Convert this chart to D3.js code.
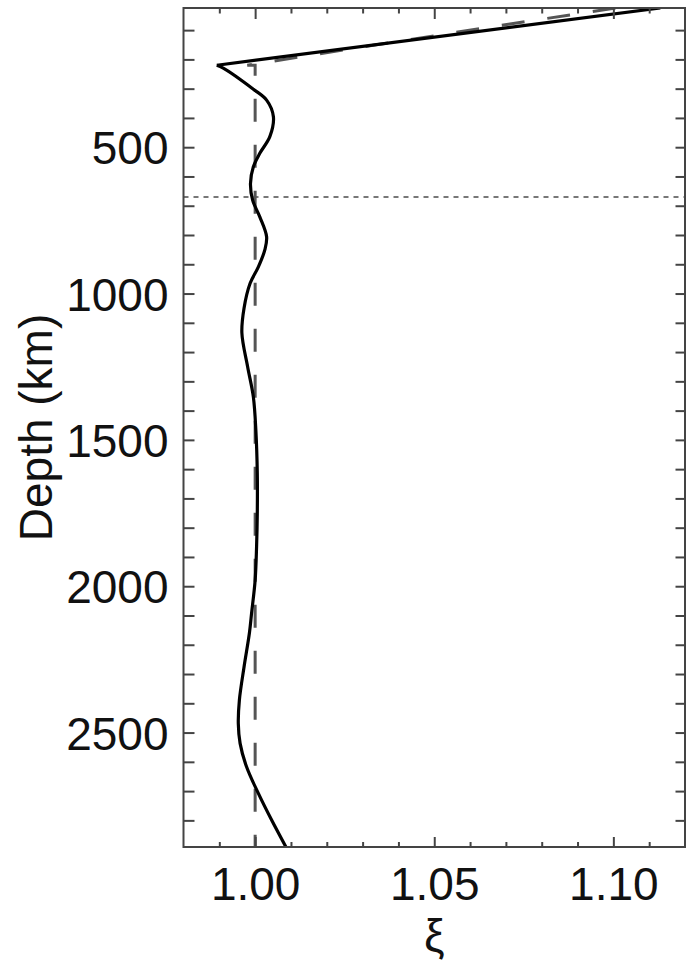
<!doctype html>
<html lang="en">
<head>
<meta charset="utf-8">
<title>Radial anisotropy xi versus depth</title>
<script src="https://cdn.jsdelivr.net/npm/d3@7"></script>
<style>
  body { margin: 0; background: #fff; }
  text { font-family: "Liberation Sans", Arial, Helvetica, sans-serif; fill: #111; }
</style>
</head>
<body>
<script>
// model: depth (km) and xi
var modelDepth = [24.4, 220, 230, 302, 339, 396, 464, 521, 567, 624, 681, 738, 806, 851, 909, 965, 1050, 1135,
                  1250, 1353, 1467, 1615, 1751, 1865, 1979, 2093, 2160, 2276, 2389, 2470, 2537, 2617, 2708, 2799, 2891];
var modelXi    = [1.1131, 0.9893, 0.9911, 0.9995, 1.0032, 1.0051, 1.0041, 1.0013, 0.9995, 0.9987, 0.9993, 1.0013, 1.0032, 1.0027, 1.0009, 0.9986, 0.9969, 0.9963,
                  0.9979, 0.9995, 1.0002, 1.0006, 1.0006, 1.0004, 1.0000, 0.9990, 0.9984, 0.9969, 0.9956, 0.9953, 0.9958, 0.9976, 1.0009, 1.0046, 1.0086];

// reference model (dashed)
var premDepth = [24.4, 80, 150, 220, 220, 2891];
var premXi    = [1.1006, 1.0707, 1.0338, 0.9978, 1.0000, 1.0000];

var transitionDepth = 670;

var xMajor = [1.00, 1.05, 1.10];
var xMinor = [0.99, 1.01, 1.02, 1.03, 1.04, 1.06, 1.07, 1.08, 1.09, 1.11];
var yLabels = [500, 1000, 1500, 2000, 2500];
var yTicks = [100, 200, 300, 400, 500, 600, 700, 800, 900, 1000, 1100, 1200, 1300, 1400, 1500, 1600, 1700,
              1800, 1900, 2000, 2100, 2200, 2300, 2400, 2500, 2600, 2700, 2800];

var W = 686, H = 969;
var mLeft = 183.5, mRight = 685, mTop = 8, mBottom = 847;

var svg = d3.select("body").append("svg")
    .attr("width", W).attr("height", H);

var x = d3.scaleLinear().domain([0.98, 1.12]).range([mLeft, mRight]);
var y = d3.scaleLinear().domain([24.4, 2891]).range([mTop, mBottom]);

var model = modelDepth.map(function(d, i){ return {depth: d, xi: modelXi[i]}; });
var prem = premDepth.map(function(d, i){ return {depth: d, xi: premXi[i]}; });

svg.append("clipPath").attr("id", "box").append("rect")
    .attr("x", mLeft).attr("y", mTop).attr("width", mRight - mLeft).attr("height", mBottom - mTop);

var plot = svg.append("g").attr("clip-path", "url(#box)");

// 670 km line
plot.append("line")
    .attr("x1", mLeft).attr("x2", mRight)
    .attr("y1", y(transitionDepth)).attr("y2", y(transitionDepth))
    .attr("stroke", "#777").attr("stroke-width", 2).attr("stroke-dasharray", "5,5");

var line = d3.line()
    .x(function(d){ return x(d.xi); })
    .y(function(d){ return y(d.depth); });

plot.append("path")
    .attr("d", line(prem))
    .attr("fill", "none").attr("stroke", "#555").attr("stroke-width", 3)
    .attr("stroke-dasharray", "23,23");

// straight lid part, then the smooth part below 220 km
plot.append("path")
    .attr("d", line(model.slice(0, 2)))
    .attr("fill", "none").attr("stroke", "#000").attr("stroke-width", 3.2);
plot.append("path")
    .attr("d", line.curve(d3.curveCatmullRom)(model.slice(1)))
    .attr("fill", "none").attr("stroke", "#000").attr("stroke-width", 3.2)
    .attr("stroke-linejoin", "round");

// axes
function style(g) {
  g.select(".domain").remove();
  g.selectAll(".tick line").attr("stroke", "#444").attr("stroke-width", 2);
}

svg.append("g").attr("transform", "translate(0," + mBottom + ")")
    .call(d3.axisBottom(x).tickValues(xMajor).tickSize(-10).tickPadding(20).tickFormat(d3.format(".2f")))
    .call(style)
    .selectAll("text").attr("font-size", 46).attr("font-family", null).attr("fill", "#111");
svg.append("g").attr("transform", "translate(0," + mBottom + ")")
    .call(d3.axisBottom(x).tickValues(xMinor).tickSize(-5).tickFormat(""))
    .call(style);
svg.append("g").attr("transform", "translate(0," + mTop + ")")
    .call(d3.axisTop(x).tickValues(xMajor).tickSize(-11).tickFormat(""))
    .call(style);
svg.append("g").attr("transform", "translate(0," + mTop + ")")
    .call(d3.axisTop(x).tickValues(xMinor).tickSize(-5.5).tickFormat(""))
    .call(style);

svg.append("g").attr("transform", "translate(" + mLeft + ",0)")
    .call(d3.axisLeft(y).tickValues(yTicks).tickSize(-11).tickFormat(""))
    .call(style);
svg.append("g").attr("transform", "translate(" + mLeft + ",0)")
    .call(d3.axisLeft(y).tickValues(yLabels).tickSize(0).tickPadding(15).tickFormat(d3.format("d")))
    .call(style)
    .selectAll("text").attr("font-size", 46).attr("font-family", null).attr("fill", "#111").attr("dy", "0.36em");
svg.append("g").attr("transform", "translate(" + mRight + ",0)")
    .call(d3.axisRight(y).tickValues(yTicks).tickSize(-9.5).tickFormat(""))
    .call(style);

svg.append("rect")
    .attr("x", mLeft).attr("y", mTop).attr("width", mRight - mLeft).attr("height", mBottom - mTop)
    .attr("fill", "none").attr("stroke", "#444").attr("stroke-width", 2);

// titles
svg.append("text")
    .attr("x", (mLeft + mRight) / 2).attr("y", 952)
    .attr("text-anchor", "middle").attr("font-size", 46)
    .text("ξ");
svg.append("text")
    .attr("transform", "translate(52," + (mTop + mBottom) / 2 + ") rotate(-90)")
    .attr("text-anchor", "middle").attr("font-size", 46)
    .text("Depth (km)");
</script>
</body>
</html>
